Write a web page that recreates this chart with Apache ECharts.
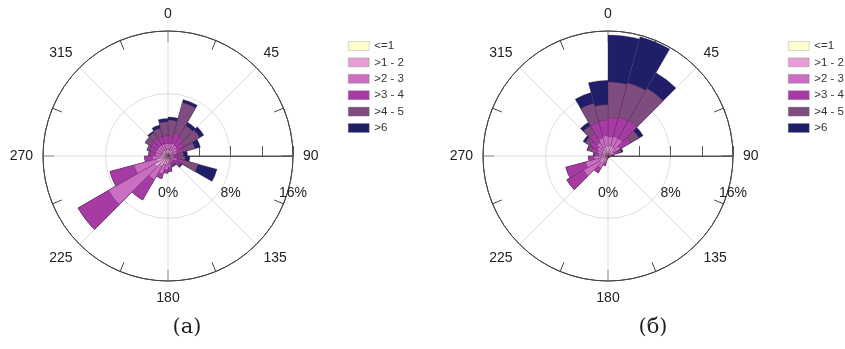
<!DOCTYPE html>
<html><head><meta charset="utf-8">
<script src="https://cdn.jsdelivr.net/npm/echarts@6/dist/echarts.min.js"></script>
<style>html,body{margin:0;padding:0;background:#fff}#c{width:845px;height:349px}</style>
</head><body><div id="c"></div>
<script>
// 24 direction sectors of 15 degrees, clockwise from north
const sectors = ['0-15','15-30','30-45','45-60','60-75','75-90','90-105','105-120','120-135','135-150','150-165','165-180',
  '180-195','195-210','210-225','225-240','240-255','255-270','270-285','285-300','300-315','315-330','330-345','345-360'];
const speedClasses = ['<=1', '>1 - 2', '>2 - 3', '>3 - 4', '>4 - 5', '>6'];
const classColors = ['#FEFED0', '#E4A0D4', '#C96EC1', '#A63BA4', '#7E4C7E', '#1F1F69'];
const angleTickLabels = [0, 45, 90, 135, 180, 225, 270, 315];
const radiusTickLabels = [0, 8, 16];

// Chart (а): radius (%) reached by each speed class, per sector (cumulative frequency)
const a_le1 = [0.2,0.2,0.2,0.2,0.2,0.1,0.1,0.2,0.1,0.1,0.1,0.2,0.2,0.2,0.3,0.3,0.3,0.2,0.2,0.2,0.2,0.2,0.2,0.2];
const a_1_2 = [0.8,0.8,0.8,0.7,0.6,0.4,0.4,0.6,0.4,0.4,0.5,0.8,1.0,1.2,1.5,2.0,1.5,1.0,0.8,0.8,0.8,0.8,0.8,0.8];
const a_2_3 = [1.6,1.7,1.6,1.4,1.2,0.8,0.8,1.2,0.9,0.8,1.0,1.5,1.8,2.4,3.5,8.8,4.5,2.0,1.6,1.6,1.6,1.6,1.6,1.6];
const a_3_4 = [2.6,3.0,2.8,2.4,2.0,1.2,1.3,2.0,1.5,1.2,1.4,2.0,2.2,3.0,6.5,13.3,7.7,3.0,2.3,2.4,2.5,2.6,2.6,2.6];
const a_4_5 = [4.6,7.1,4.5,4.7,3.6,2.0,2.2,4.0,1.9,1.4,1.5,2.0,2.2,3.0,6.5,13.3,7.7,3.0,2.5,2.8,3.4,3.5,3.7,4.4];
const a_gt6 = [5.0,7.5,5.0,5.3,4.3,2.5,2.8,6.5,2.1,1.5,1.5,2.0,2.2,3.0,6.5,13.3,7.7,3.0,2.5,2.8,3.4,3.7,4.1,4.8];

// Chart (б)
const b_le1 = [0.3,0.3,0.3,0.2,0.1,0.1,0.05,0.05,0.05,0.05,0.05,0.05,0.05,0.1,0.1,0.2,0.2,0.1,0.1,0.1,0.1,0.2,0.2,0.3];
const b_1_2 = [1.3,1.3,1.2,0.8,0.4,0.2,0.1,0.1,0.1,0.1,0.1,0.1,0.2,0.5,0.8,1.2,1.0,0.8,0.6,0.7,0.8,0.9,1.1,1.3];
const b_2_3 = [2.5,2.6,2.6,1.8,0.9,0.4,0.2,0.15,0.15,0.15,0.15,0.15,0.3,1.0,1.8,3.6,3.0,1.8,1.2,1.4,1.6,2.0,2.4,2.6];
const b_3_4 = [4.9,5.1,5.3,3.4,1.4,0.6,0.3,0.2,0.2,0.2,0.2,0.2,0.4,1.3,2.5,6.1,5.6,2.5,1.7,2.2,2.6,3.3,4.5,4.6];
const b_4_5 = [9.5,9.7,10.0,4.6,1.8,0.7,0.3,0.2,0.2,0.2,0.2,0.2,0.4,1.3,2.5,6.1,5.6,2.5,1.9,2.7,3.4,4.5,7.0,6.6];
const b_gt6 = [15.5,15.8,12.3,5.2,2.0,0.8,0.3,0.2,0.2,0.2,0.2,0.2,0.4,1.3,2.5,6.1,5.6,2.5,1.9,2.8,3.7,5.0,8.4,9.7];

const FONT = '"Liberation Sans", Arial, sans-serif';
const chart = echarts.init(document.getElementById('c'), null, {renderer: 'canvas'});

const centers = [[168, 156], [608, 156]];
const R = 125;

function frameAngleAxis(pi) {
  return {
    polarIndex: pi, type: 'value', min: 0, max: 360, interval: 45, startAngle: 0, clockwise: true,
    axisLine: {show: true, lineStyle: {color: '#444', width: 1}},
    axisTick: {show: true, inside: true, length: 11, lineStyle: {color: '#444'}},
    minorTick: {show: true, splitNumber: 2, length: 10, lineStyle: {color: '#444'}},
    axisLabel: {margin: 10, fontSize: 14, color: '#222', fontFamily: FONT,
      formatter: v => { const c = (v + 90) % 360; return angleTickLabels.indexOf(c) >= 0 ? String(c) : ''; }},
    splitLine: {show: true, lineStyle: {color: ['#555', '#ddd', '#ddd', '#ddd', '#ddd', '#ddd', '#ddd', '#ddd'], width: 1}}
  };
}
function frameRadiusAxis(pi) {
  return {
    polarIndex: pi, type: 'value', min: 0, max: 16, interval: 8,
    axisLine: {show: true, lineStyle: {color: '#555', width: 1}},
    axisTick: {show: true, inside: true, length: 10, lineStyle: {color: '#555'}},
    minorTick: {show: true, splitNumber: 2, length: 10, lineStyle: {color: '#555'}},
    axisLabel: {show: true, margin: -44, fontSize: 14, color: '#222', fontFamily: FONT,
      formatter: v => radiusTickLabels.indexOf(v) >= 0 ? v + '%' : ''},
    splitLine: {show: true, lineStyle: {color: ['#ddd', '#ddd', '#444'], width: 1}}
  };
}
function barAngleAxis(pi) {
  return {polarIndex: pi, type: 'category', data: sectors, startAngle: 90, clockwise: true,
    axisLine: {show: false}, axisTick: {show: false}, axisLabel: {show: false}, splitLine: {show: false}};
}
function barRadiusAxis(pi) {
  return {polarIndex: pi, type: 'value', min: 0, max: 16,
    axisLine: {show: false}, axisTick: {show: false}, axisLabel: {show: false}, splitLine: {show: false}};
}

function makeSeries(pi, cums) {
  const out = [];
  for (let k = cums.length - 1; k >= 0; k--) {
    out.push({
      type: 'bar', coordinateSystem: 'polar', polarIndex: pi, name: speedClasses[k],
      data: cums[k], barGap: '-100%', barCategoryGap: '0%', z: 2,
      itemStyle: {color: classColors[k], borderColor: 'rgba(60,30,60,0.5)', borderWidth: 0.5},
      emphasis: {disabled: true}, silent: true
    });
  }
  return out;
}

function legendAt(left) {
  return {
    data: speedClasses, left: left, top: 40, padding: 0, orient: 'vertical', icon: 'rect',
    itemWidth: 21, itemHeight: 9, itemGap: 4.4, selectedMode: false,
    itemStyle: {borderWidth: 0.5, borderColor: 'rgba(120,120,120,0.6)'},
    textStyle: {fontSize: 11.5, color: '#333', fontFamily: FONT, lineHeight: 12}
  };
}

chart.setOption({
  animation: false,
  polar: [
    {center: centers[0], radius: R},
    {center: centers[0], radius: R},
    {center: centers[1], radius: R},
    {center: centers[1], radius: R}
  ],
  angleAxis: [frameAngleAxis(0), barAngleAxis(1), frameAngleAxis(2), barAngleAxis(3)],
  radiusAxis: [frameRadiusAxis(0), barRadiusAxis(1), frameRadiusAxis(2), barRadiusAxis(3)],
  legend: [legendAt(348), legendAt(788)],
  series: [].concat(
    makeSeries(1, [a_le1, a_1_2, a_2_3, a_3_4, a_4_5, a_gt6]),
    makeSeries(3, [b_le1, b_1_2, b_2_3, b_3_4, b_4_5, b_gt6])
  ),
  graphic: [
    {type: 'text', x: 187, y: 328, style: {text: '(а)', font: '21px "DejaVu Serif", serif', fill: '#222', align: 'center', verticalAlign: 'middle'}},
    {type: 'text', x: 653, y: 328, style: {text: '(б)', font: '21px "DejaVu Serif", serif', fill: '#222', align: 'center', verticalAlign: 'middle'}}
  ]
});
</script></body></html>
